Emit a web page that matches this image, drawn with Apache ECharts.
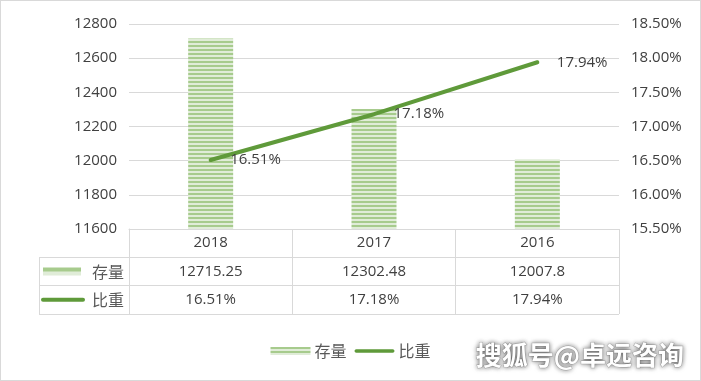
<!DOCTYPE html>
<html>
<head>
<meta charset="utf-8">
<script src="https://cdn.jsdelivr.net/npm/echarts@6/dist/echarts.min.js"></script>
<style>
html,body{margin:0;padding:0;background:#fff;}
#c{width:701px;height:381px;box-sizing:border-box;border:1px solid #d9d9d9;}
</style>
</head>
<body>
<div id="c"></div>
<script>
// ---- data ----
var categories = ['2018', '2017', '2016'];
var stockValues = [12715.25, 12302.48, 12007.8];
var ratioValues = [16.51, 17.18, 17.94];
var rowNames = ['', '存量', '比重'];
var seriesNames = ['存量', '比重'];
var watermark = '搜狐号@卓远咨询';

// ---- styling helpers ----
var FONT = "'Open Sans', 'Noto Sans CJK SC', sans-serif";
var CJK = "'Noto Sans CJK SC', sans-serif";
var LINE_COLOR = '#5f9a3a';
var GRID_COLOR = '#d9d9d9';
var TEXT_COLOR = '#404040';

function makePattern() {
  var cv = document.createElement('canvas');
  cv.width = 4; cv.height = 4;
  var ctx = cv.getContext('2d');
  ctx.fillStyle = '#a7cb8d'; ctx.fillRect(0, 0, 4, 2);
  ctx.fillStyle = '#e0ecd8'; ctx.fillRect(0, 2, 4, 2);
  return cv;
}
var pattern = makePattern();
var barFill = { image: pattern, repeat: 'repeat' };

// table cell texts built from data
var cellTexts = [];
var cellData = [];
categories.forEach(function (c, i) {
  cellData.push([i, 0]); cellTexts.push(c);
  cellData.push([i, 1]); cellTexts.push(String(stockValues[i]));
  cellData.push([i, 2]); cellTexts.push(ratioValues[i].toFixed(2) + '%');
});

var chart = echarts.init(document.getElementById('c'), null, { renderer: 'canvas' });
var option = {
  animation: false,
  textStyle: { fontFamily: FONT },
  title: {
    text: watermark,
    right: 10, bottom: 6,
    textStyle: {
      fontFamily: CJK, fontSize: 26, fontWeight: 'bold', color: '#ffffff',
      textShadowColor: 'rgba(0,0,0,0.6)', textShadowBlur: 5,
      textBorderColor: 'rgba(110,110,110,0.4)', textBorderWidth: 1
    }
  },
  legend: {
    bottom: 16,
    left: 'center',
    itemWidth: 40, itemHeight: 8, itemGap: 8,
    textStyle: { fontFamily: CJK, fontSize: 16, color: '#595959', padding: [0, 0, 0, -1] },
    data: [
      { name: seriesNames[0], icon: 'rect', itemStyle: { color: barFill } },
      { name: seriesNames[1], icon: 'path://M2,0 L42,0 A2,2 0 0 1 42,4 L2,4 A2,2 0 0 1 2,0 Z', itemStyle: { color: LINE_COLOR } }
    ]
  },
  grid: [
    { left: 128, right: 81, top: 23, height: 205 },
    { left: 128, right: 81, top: 228, height: 85 }
  ],
  xAxis: [
    { type: 'category', gridIndex: 0, data: categories, axisLine: { show: false }, axisTick: { show: false }, axisLabel: { show: false } },
    {
      type: 'category', gridIndex: 1, data: categories, position: 'top',
      axisLine: { show: true, lineStyle: { color: GRID_COLOR } }, axisTick: { show: false }, axisLabel: { show: false },
      splitLine: { show: true, lineStyle: { color: GRID_COLOR } }
    }
  ],
  yAxis: [
    {
      type: 'value', gridIndex: 0, min: 11600, max: 12800, interval: 200,
      axisLine: { show: false }, axisTick: { show: false },
      axisLabel: { fontSize: 15, color: TEXT_COLOR, margin: 12, fontFamily: FONT, formatter: function (v) { return String(v); } },
      splitLine: { lineStyle: { color: GRID_COLOR } }
    },
    {
      type: 'value', gridIndex: 0, min: 15.5, max: 18.5, interval: 0.5, position: 'right',
      axisLine: { show: false }, axisTick: { show: false },
      axisLabel: { fontSize: 15, color: TEXT_COLOR, margin: 12, fontFamily: FONT, formatter: function (v) { return v.toFixed(2) + '%'; } },
      splitLine: { show: false }
    },
    {
      type: 'category', gridIndex: 1, data: rowNames, inverse: true,
      axisLine: { show: true, lineStyle: { color: GRID_COLOR } },
      axisTick: { show: true, length: 90, lineStyle: { color: GRID_COLOR }, interval: function (idx) { return idx !== 0; } },
      axisLabel: {
        margin: 5,
        formatter: function (v) {
          if (v === seriesNames[0]) return '{bar|}{t|' + v + '}';
          if (v === seriesNames[1]) return '{line|}{t2|' + v + '}';
          return '';
        },
        rich: {
          bar: { width: 38, height: 8, backgroundColor: barFill },
          line: { width: 44, height: 4, backgroundColor: LINE_COLOR, borderRadius: 2 },
          t: { fontFamily: CJK, fontSize: 16, color: '#595959', padding: [0, 0, 0, 11] },
          t2: { fontFamily: CJK, fontSize: 16, color: '#595959', padding: [0, 0, 0, 7] }
        }
      },
      splitLine: { show: true, lineStyle: { color: GRID_COLOR } }
    }
  ],
  graphic: [
    { type: 'line', shape: { x1: 38.5, y1: 256, x2: 38.5, y2: 313 }, style: { stroke: GRID_COLOR, lineWidth: 1 } }
  ],
  series: [
    {
      name: seriesNames[0], type: 'bar', xAxisIndex: 0, yAxisIndex: 0,
      data: stockValues, barWidth: 45,
      itemStyle: { color: barFill }
    },
    {
      name: seriesNames[1], type: 'line', xAxisIndex: 0, yAxisIndex: 1,
      data: ratioValues, symbol: 'circle', symbolSize: 3,
      itemStyle: { color: LINE_COLOR },
      lineStyle: { color: LINE_COLOR, width: 4, cap: 'round' },
      label: {
        show: true, position: 'right', distance: 18,
        fontSize: 15, color: TEXT_COLOR, fontFamily: FONT,
        formatter: function (p) { return p.value.toFixed(2) + '%'; }
      }
    },
    {
      type: 'custom', xAxisIndex: 1, yAxisIndex: 2, data: cellData,
      silent: true,
      renderItem: function (params, api) {
        var p = api.coord([api.value(0), api.value(1)]);
        return {
          type: 'text',
          style: {
            text: cellTexts[params.dataIndex], x: p[0], y: p[1],
            align: 'center', verticalAlign: 'middle',
            fontSize: 15, fontFamily: FONT, fill: TEXT_COLOR
          }
        };
      }
    }
  ]
};
chart.setOption(option);
</script>
</body>
</html>
